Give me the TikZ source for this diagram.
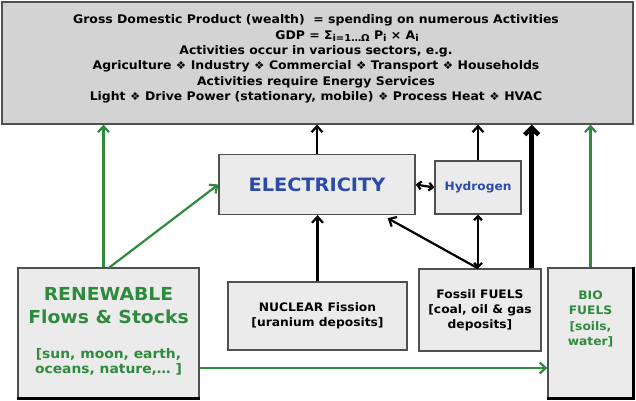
\documentclass[tikz,border=0pt]{standalone}
\usepackage{fontspec}
\setmainfont[FakeStretch=1.05]{DejaVu Sans}
\usetikzlibrary{positioning, arrows.meta, calc}

\definecolor{gdpgray}{HTML}{D3D3D3}
\definecolor{boxgray}{HTML}{EBEBEB}
\definecolor{edgegray}{HTML}{505050}
\definecolor{renewgreen}{HTML}{2E8B3E}
\definecolor{elecblue}{HTML}{2A4BA8}

\newcommand{\dsep}{\hspace{4.5pt}{\fontsize{11}{11}\selectfont ❖}\hspace{4.5pt}}
\newcommand{\lowsub}[1]{\raisebox{-2.6pt}{\fontsize{9.5}{9.5}\selectfont #1}}
\newcommand{\rensmall}{\fontsize{13.2}{15}\selectfont}

\begin{document}
\begin{tikzpicture}[
    x=1pt, y=-1pt,
    source/.style={rectangle, draw=edgegray, fill=boxgray, line width=1.3pt, align=center, inner sep=2pt,
                   font=\fontsize{11.7}{15}\selectfont\bfseries},
    garrow/.style={draw=renewgreen, line width=2.2pt, -{Straight Barb[length=6pt, width=11pt]}},
    karrow/.style={draw=black, line width=2.2pt, -{Straight Barb[length=6pt, width=11pt]}},
    kboth/.style={draw=black, line width=2.2pt, {Straight Barb[length=4pt, width=8pt]}-{Straight Barb[length=4pt, width=8pt]}}
]
\useasboundingbox (0,0) rectangle (636,400);

% economy box
\node[rectangle, draw=edgegray, fill=gdpgray, line width=1.6pt, minimum width=631pt, minimum height=122pt, inner sep=0pt, anchor=north west] (gdp) at (1,1) {};
\node[align=center, font=\fontsize{11.85}{15.4}\selectfont\bfseries] (gdptext) at (316,59) {%
    Gross Domestic Product (wealth) \ = spending on numerous Activities\\
    \hspace*{62pt}GDP = Σ\lowsub{i=1…Ω} P\lowsub{i} × A\lowsub{i}\\
    Activities occur in various sectors, e.g.\\
    Agriculture\dsep Industry\dsep Commercial\dsep Transport\dsep Households\\
    Activities require Energy Services\\
    Light\dsep Drive Power (stationary, mobile)\dsep Process Heat\dsep HVAC};

% carriers and sources
\node[source, minimum width=196pt, minimum height=60pt, font=\fontsize{18.4}{20}\selectfont\bfseries, text=elecblue] (elec) at (317,184.5) {ELECTRICITY};
\node[source, minimum width=86pt, minimum height=53pt, font=\fontsize{11.6}{13}\selectfont\bfseries, text=elecblue] (hyd) at (478,187.5) {Hydrogen};
\node[source, minimum width=181pt, minimum height=130pt, text=renewgreen, font=\fontsize{17.9}{23}\selectfont\bfseries] (ren) at (108.5,333) {%
    RENEWABLE\\Flows \& Stocks\\[12pt]
    \rensmall\begin{tabular}[t]{@{}c@{}}[sun, moon, earth,\\oceans, nature,… ]\end{tabular}};
\node[source, minimum width=179pt, minimum height=68pt] (nuc) at (317.5,316) {NUCLEAR Fission\\\relax[uranium deposits]};
\node[source, minimum width=122pt, minimum height=82pt] (fos) at (480,310) {Fossil FUELS\\\relax[coal, oil \& gas\\deposits]};
\node[source, minimum width=85pt, minimum height=130pt] (bio) at (590.5,333) {};
\node[align=center, text=renewgreen, font=\fontsize{11.7}{15.3}\selectfont\bfseries] (biotext) at ([yshift=14pt]bio.center) {BIO\\FUELS\\\relax[soils,\\water]};
% shadow edges
\draw[line width=3pt] (ren.south west) -- (ren.south east);
\draw[line width=3pt] (bio.north east) -- (bio.south east) -- (bio.south west);

% flows
\draw[garrow] ([xshift=-5pt]ren.north) -- ([xshift=-5pt]ren.north |- gdp.south);
\draw[garrow] ([xshift=1pt]ren.north) -- (elec.west);
\draw[garrow] ([yshift=-35pt]ren.east) -- ([yshift=-35pt]ren.east -| bio.west);
\draw[garrow] (bio.north) -- (bio.north |- gdp.south);
\draw[karrow] (elec.north) -- (elec.north |- gdp.south);
\draw[karrow] (hyd.north) -- (hyd.north |- gdp.south);
\draw[karrow, line width=4.5pt, -{Straight Barb[length=7pt, width=14pt]}] ([xshift=-10pt]fos.north east) -- ([xshift=-10pt]fos.north east |- gdp.south);
\draw[karrow] (nuc.north) -- (nuc.north |- elec.south);
\draw[kboth] (elec.east) -- (hyd.west);
\draw[kboth] (hyd.south) -- (hyd.south |- fos.north);
\draw[karrow] (hyd.south |- fos.north) -- ([xshift=-28pt, yshift=-3pt]elec.south east);
\end{tikzpicture}
\end{document}
